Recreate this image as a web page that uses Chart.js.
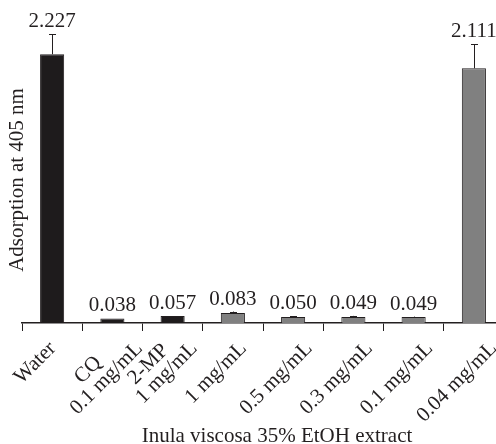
<!DOCTYPE html>
<html>
<head>
<meta charset="utf-8">
<script src="https://cdn.jsdelivr.net/npm/chart.js@4/dist/chart.umd.min.js"></script>
<style>
  html, body { margin: 0; padding: 0; background: #fff; overflow: hidden; width: 496px; height: 444px; }
  #wrap { width: 506px; height: 444px; position: relative; }
</style>
</head>
<body>
<div id="wrap"><canvas id="c"></canvas></div>
<script>
const categories = [
  ["Water"],
  ["CQ", "0.1 mg/mL"],
  ["2-MP", "1 mg/mL"],
  ["1 mg/mL"],
  ["0.5 mg/mL"],
  ["0.3 mg/mL"],
  ["0.1 mg/mL"],
  ["0.04 mg/mL"]
];
const values = [2.227, 0.038, 0.057, 0.083, 0.050, 0.049, 0.049, 2.111];
const errors = [0.165, 0, 0, 0.012, 0.006, 0.010, 0.004, 0.200];
const valueLabels = ["2.227", "0.038", "0.057", "0.083", "0.050", "0.049", "0.049", "2.111"];
const groups = ["control", "control", "control", "extract", "extract", "extract", "extract", "extract"];
const yTitle = "Adsorption at 405 nm";
const xTitle = "Inula viscosa 35% EtOH extract";

const FONT = "'Liberation Serif', 'Times New Roman', serif";
const FSIZE = 21;
const INK = "#231f20";
const fills = { control: "#1e1b1c", extract: "#808080" };
const LABEL_ANGLE = 45;

const overlay = {
  id: "overlay",
  afterDatasetsDraw(chart) {
    const ctx = chart.ctx;
    const meta = chart.getDatasetMeta(0);
    const y = chart.scales.y;
    const x = chart.scales.x;
    ctx.save();
    ctx.strokeStyle = INK;
    ctx.lineWidth = 1;
    ctx.fillStyle = INK;
    ctx.font = FSIZE + "px " + FONT;
    ctx.textAlign = "center";
    ctx.textBaseline = "alphabetic";
    // error bars and value labels
    meta.data.forEach((bar, i) => {
      const bx = Math.round(bar.x) + 0.5;
      const top = y.getPixelForValue(values[i] + errors[i]);
      const vTop = y.getPixelForValue(values[i]);
      if (errors[i] > 0) {
        ctx.beginPath();
        ctx.moveTo(bx, vTop);
        ctx.lineTo(bx, top);
        ctx.moveTo(bx - 3.5, Math.round(top) + 0.5);
        ctx.lineTo(bx + 3.5, Math.round(top) + 0.5);
        ctx.stroke();
      }
      ctx.fillText(valueLabels[i], bar.x, top - 7);
    });
    // x-axis title
    ctx.fillText(xTitle, 277, chart.height - 2);
    // rotated category labels, horizontally centred under each tick
    ctx.textAlign = "right";
    const lh = 19;
    const base = chart.chartArea.bottom;
    const c45 = Math.cos(LABEL_ANGLE * Math.PI / 180);
    categories.forEach((lines, i) => {
      const cx = x.getPixelForTick(i);
      const n = lines.length;
      const widths = lines.map(l => ctx.measureText(l).width);
      const W = Math.max(...widths);
      const ex = cx - 13 + 0.5 * c45 * W + (n > 1 ? 11 : 0);
      const ey = base + 26.3;
      ctx.save();
      ctx.translate(ex, ey);
      ctx.rotate(-LABEL_ANGLE * Math.PI / 180);
      lines.forEach((l, k) => {
        const shift = widths[k] < W ? (W - widths[k]) / 2 + 7 : 0;
        ctx.fillText(l, -shift, -(n - 1 - k) * lh);
      });
      ctx.restore();
    });
    ctx.restore();
  }
};

new Chart(document.getElementById("c"), {
  type: "bar",
  data: {
    labels: categories,
    datasets: [{
      data: values,
      backgroundColor: groups.map(g => fills[g]),
      borderColor: INK,
      borderWidth: 1,
      barPercentage: 0.4,
      categoryPercentage: 1.0
    }]
  },
  options: {
    responsive: true,
    maintainAspectRatio: false,
    animation: false,
    devicePixelRatio: 1,
    layout: { padding: { top: 37, right: 2, left: 0, bottom: 0 } },
    plugins: { legend: { display: false }, tooltip: { enabled: false } },
    scales: {
      x: {
        offset: true,
        grid: { offset: true, drawOnChartArea: false, drawTicks: true, tickLength: 8, color: INK, lineWidth: 1 },
        border: { display: true, color: INK, width: 1.5 },
        ticks: { display: false, autoSkip: false },
        afterFit(scale) { scale.height = 121; }
      },
      y: {
        min: 0,
        max: 2.37,
        grid: { display: false, drawTicks: false },
        border: { display: false },
        ticks: { display: false },
        title: { display: true, text: yTitle, color: INK, font: { family: FONT, size: FSIZE, lineHeight: 1.2 }, padding: { top: 5, bottom: 0 } },
        afterFit(scale) { scale.width = 22; }
      }
    }
  },
  plugins: [overlay]
});
</script>
</body>
</html>
